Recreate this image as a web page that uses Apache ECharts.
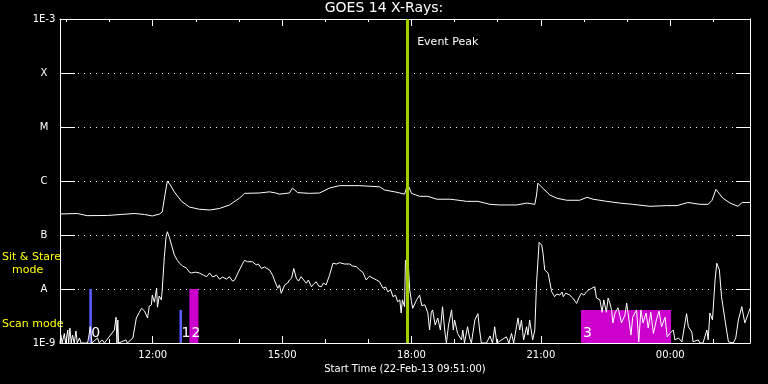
<!DOCTYPE html>
<html><head><meta charset="utf-8">
<script src="https://cdn.jsdelivr.net/npm/echarts@6/dist/echarts.min.js"></script>
<style>html,body{margin:0;padding:0;background:#000}#c{width:768px;height:384px}</style>
</head><body><div id="c"></div>
<script>
// Time in decimal hours since 00:00 22-Feb-13 (values > 24 are on 23-Feb); flux in W/m^2
const longT = [9.85,10.25,10.48,10.95,11.27,11.57,11.81,11.99,12.16,12.22,12.28,12.34,12.41,12.50,12.67,12.85,13.08,13.32,13.55,13.78,14.01,14.13,14.48,14.71,14.75,14.85,14.94,15.17,15.24,15.36,15.64,15.87,16.10,16.33,16.80,17.26,17.38,17.61,17.73,17.84,17.89,17.94,18.00,18.19,18.38,18.59,18.89,18.93,19.00,19.28,19.54,19.82,20.05,20.44,20.67,20.86,20.90,20.93,21.05,21.21,21.37,21.60,21.90,22.07,22.21,22.53,22.83,23.13,23.53,23.92,24.16,24.41,24.69,24.88,24.97,25.06,25.22,25.39,25.57,25.67,25.85];
const longV = [2.45e-7,2.5e-7,2.28e-7,2.3e-7,2.4e-7,2.5e-7,2.4e-7,2.25e-7,2.45e-7,2.67e-7,5.3e-7,1.0e-6,8.4e-7,6.3e-7,4.2e-7,3.3e-7,3.0e-7,2.9e-7,3.1e-7,3.6e-7,4.8e-7,5.9e-7,6.0e-7,6.3e-7,6.8e-7,6.0e-7,5.7e-7,6.0e-7,7.4e-7,6.1e-7,5.9e-7,6.0e-7,7.4e-7,8.2e-7,8.2e-7,7.8e-7,6.8e-7,6.3e-7,6.0e-7,5.7e-7,7.7e-7,7.8e-7,5.9e-7,5.2e-7,5.2e-7,4.6e-7,4.6e-7,4.8e-7,4.5e-7,4.2e-7,4.2e-7,3.7e-7,3.6e-7,3.6e-7,3.9e-7,3.7e-7,5.5e-7,9.1e-7,7.3e-7,5.5e-7,4.8e-7,4.4e-7,4.4e-7,5.0e-7,4.6e-7,4.2e-7,3.9e-7,3.7e-7,3.4e-7,3.5e-7,3.5e-7,4.0e-7,3.7e-7,3.7e-7,4.4e-7,7.0e-7,4.8e-7,3.9e-7,3.4e-7,4.0e-7,4.0e-7];

const shortT = [9.85,9.87,9.90,9.95,9.98,10.03,10.05,10.08,10.11,10.14,10.18,10.22,10.25,10.30,10.34,10.49,10.52,10.55,10.59,10.72,10.76,10.83,10.88,11.11,11.15,11.17,11.19,11.21,11.38,11.41,11.54,11.57,11.62,11.69,11.74,11.81,11.88,11.92,11.97,11.99,12.04,12.09,12.11,12.15,12.20,12.22,12.27,12.31,12.34,12.39,12.43,12.50,12.57,12.62,12.69,12.78,12.85,12.90,12.99,13.08,13.18,13.25,13.32,13.39,13.48,13.55,13.62,13.71,13.78,13.85,13.90,14.01,14.08,14.13,14.20,14.24,14.31,14.40,14.45,14.52,14.59,14.71,14.78,14.82,14.90,14.94,14.98,15.06,15.13,15.17,15.22,15.27,15.33,15.38,15.44,15.50,15.56,15.61,15.68,15.73,15.79,15.85,15.91,15.96,16.02,16.10,16.18,16.26,16.33,16.45,16.57,16.63,16.72,16.80,16.87,16.95,17.03,17.11,17.19,17.26,17.34,17.40,17.45,17.52,17.57,17.63,17.68,17.73,17.76,17.79,17.84,17.86,17.90,17.93,17.96,18.00,18.03,18.07,18.12,18.19,18.24,18.31,18.38,18.42,18.46,18.49,18.55,18.61,18.67,18.72,18.77,18.81,18.86,18.93,18.97,19.00,19.07,19.16,19.19,19.23,19.30,19.35,19.39,19.47,19.54,19.58,19.62,19.74,19.82,19.88,19.93,19.98,20.20,20.26,20.32,20.37,20.47,20.51,20.55,20.60,20.67,20.70,20.74,20.81,20.86,20.90,20.96,21.02,21.05,21.09,21.17,21.25,21.32,21.37,21.44,21.49,21.52,21.58,21.67,21.74,21.83,21.88,21.94,22.00,22.06,22.11,22.18,22.25,22.29,22.37,22.42,22.46,22.52,22.56,22.60,22.64,22.67,22.72,22.79,22.87,22.95,22.99,23.02,23.09,23.13,23.22,23.27,23.32,23.37,23.44,23.49,23.55,23.61,23.68,23.74,23.80,23.88,23.93,23.99,24.07,24.11,24.19,24.27,24.38,24.42,24.50,24.53,24.65,24.69,24.76,24.85,24.88,24.92,24.98,25.04,25.08,25.14,25.19,25.27,25.35,25.46,25.52,25.58,25.66,25.73,25.81,25.85];
const shortV = [1e-9,1.4e-9,1e-9,1.5e-9,1e-9,1.74e-9,1e-9,1.9e-9,1e-9,1.4e-9,1e-9,1.67e-9,1e-9,1.24e-9,1e-9,1e-9,1.35e-9,2e-9,1e-9,1.24e-9,1e-9,1.14e-9,1e-9,1.74e-9,3e-9,1e-9,2.67e-9,1e-9,1.14e-9,1e-9,1.24e-9,1.29e-9,2.9e-9,3.7e-9,4.4e-9,3.9e-9,2.9e-9,4.8e-9,5.1e-9,7.7e-9,5.7e-9,1.04e-8,4.6e-9,7.4e-9,6.3e-9,9.6e-9,4.0e-8,9.3e-8,1.15e-7,8.8e-8,6.8e-8,4.3e-8,3.4e-8,3.0e-8,2.67e-8,2.45e-8,2.05e-8,1.98e-8,2.05e-8,1.98e-8,1.8e-8,1.69e-8,1.98e-8,1.67e-8,1.8e-8,1.52e-8,1.67e-8,1.52e-8,1.69e-8,1.4e-8,1.47e-8,2.25e-8,2.9e-8,3.4e-8,3.2e-8,3.0e-8,3.2e-8,2.8e-8,2.9e-8,2.4e-8,2.55e-8,2.25e-8,1.8e-8,1.47e-8,1.03e-8,1.19e-8,8.3e-9,1.19e-8,1.29e-8,1.47e-8,1.58e-8,2.4e-8,1.58e-8,1.4e-8,1.69e-8,1.47e-8,1.28e-8,1.47e-8,1.1e-8,1.23e-8,1.36e-8,1.13e-8,1.1e-8,1.29e-8,1.19e-8,1.8e-8,3.0e-8,2.9e-8,3.07e-8,2.9e-8,2.9e-8,2.67e-8,2.6e-8,2.25e-8,2.05e-8,1.47e-8,1.73e-8,1.58e-8,1.47e-8,1.36e-8,1.03e-8,1.09e-8,8.9e-9,9.6e-9,7.2e-9,7.7e-9,5.8e-9,6.3e-9,3.6e-9,6.3e-9,4.7e-9,3.4e-8,3.2e-8,2.6e-8,9.6e-9,5.8e-9,4.4e-9,4.7e-9,6.3e-9,7.7e-9,4.9e-9,5.1e-9,3.6e-9,1.74e-9,3.7e-9,4.1e-9,2.15e-9,2.9e-9,1.74e-9,4.7e-9,1.74e-9,1e-9,2.15e-9,4.1e-9,1.74e-9,2.67e-9,1.5e-9,1.14e-9,1.74e-9,1e-9,2.0e-9,1.24e-9,1e-9,2.67e-9,3.5e-9,1.74e-9,1e-9,1e-9,1.35e-9,1e-9,2e-9,1e-9,1.3e-9,1e-9,1.5e-9,1e-9,2.9e-9,1.74e-9,2.67e-9,1.14e-9,2e-9,1.4e-9,2.67e-9,1.14e-9,1.74e-9,1.28e-8,7.3e-8,6.5e-8,4.6e-8,2.25e-8,1.95e-8,8.9e-9,7.2e-9,8.1e-9,7.7e-9,8.8e-9,7.2e-9,8.4e-9,7.7e-9,6.8e-9,5.4e-9,6.8e-9,8.3e-9,7.7e-9,8.9e-9,9.6e-9,1.03e-8,1.1e-8,6.8e-9,6.3e-9,3.7e-9,6.3e-9,3.7e-9,6.8e-9,5.5e-9,4.1e-9,2.35e-9,3.6e-9,4.5e-9,2.35e-9,3.3e-9,5.5e-9,3.7e-9,1.4e-9,3.0e-9,4.1e-9,1.05e-9,4.1e-9,2.35e-9,3.6e-9,1.9e-9,3.7e-9,1.5e-9,2.67e-9,3.9e-9,2.0e-9,3.0e-9,1.29e-9,1.5e-9,1.74e-9,1.14e-9,1.24e-9,1.05e-9,3.5e-9,2.0e-9,1.6e-9,1.05e-9,1.14e-9,1e-9,1e-9,1.74e-9,1.14e-9,3.6e-9,2.67e-9,1.47e-8,3.0e-8,2.25e-8,7.2e-9,2.67e-9,1.05e-9,1e-9,1.24e-9,2.67e-9,4.7e-9,2.35e-9,3.5e-9,4.4e-9];

// Scan/mode markers
const modeStart = [10.53, 12.62, 12.85, 21.93];
const modeEnd   = [10.59, 12.68, 13.06, 24.02];
const modeTop   = [1e-8, 4.1e-9, 1e-8, 4.1e-9];
const modeLabel = ['0', '1', '2', '3'];

const eventPeak = 17.90;
const xMin = 9.85, xMax = 25.85;
const yMin = 1e-9, yMax = 1e-3;
const majorTicks = [12, 15, 18, 21, 24];
const minorTicks = [10, 11, 13, 14, 16, 17, 19, 20, 22, 23, 25];
const classLabels = {'-9': '1E-9', '-8': 'A', '-7': 'B', '-6': 'C', '-5': 'M', '-4': 'X', '-3': '1E-3'};

const FONT = 'DejaVu Sans';
const modeColors = ['#5c5cff', '#5c5cff', '#cc00cc', '#cc00cc'];

const chart = echarts.init(document.getElementById('c'), null, {renderer: 'canvas'});
const gridBox = {left: 60, right: 18, top: 19, bottom: 41};

function xAxisDef(grid, pos, ticks, len, withLabels) {
  return {
    type: 'value', gridIndex: grid, position: pos, min: xMin, max: xMax,
    axisLine: {show: grid === 0, lineStyle: {color: '#fff', width: 1}},
    axisTick: {show: true, inside: true, length: len, customValues: ticks, lineStyle: {color: '#fff', width: 1}},
    axisLabel: {show: withLabels, customValues: majorTicks, color: '#fff', fontFamily: FONT, fontSize: 10, margin: 7,
      formatter: v => String(Math.round(v) % 24).padStart(2, '0') + ':00'},
    splitLine: {show: false},
    name: withLabels ? 'Start Time (22-Feb-13 09:51:00)' : '',
    nameLocation: 'middle', nameGap: 20,
    nameTextStyle: {color: '#fff', fontFamily: FONT, fontSize: 10}
  };
}

const option = {
  backgroundColor: '#000',
  animation: false,
  title: {text: 'GOES 14 X-Rays:', left: 'center', top: 1, padding: 0,
    textStyle: {color: '#fff', fontFamily: FONT, fontSize: 14, fontWeight: 'normal'}},
  grid: [Object.assign({}, gridBox), Object.assign({}, gridBox)],
  xAxis: [
    xAxisDef(0, 'bottom', majorTicks, 7, true),
    xAxisDef(0, 'top', majorTicks, 7, false),
    xAxisDef(1, 'bottom', minorTicks, 4, false),
    xAxisDef(1, 'top', minorTicks, 3, false)
  ],
  yAxis: [
    {type: 'log', logBase: 10, gridIndex: 0, position: 'left', min: yMin, max: yMax,
      axisLine: {show: true, lineStyle: {color: '#fff', width: 1}},
      axisTick: {show: true, inside: true, length: 15, lineStyle: {color: '#fff', width: 1}},
      axisLabel: {color: '#fff', fontFamily: FONT, fontSize: 10, margin: 16, align: 'center',
        formatter: v => classLabels[String(Math.round(Math.log10(v)))] || ''},
      splitLine: {show: true, lineStyle: {color: '#fff', width: 1, type: [1, 5]}}},
    {type: 'log', logBase: 10, gridIndex: 0, position: 'right', min: yMin, max: yMax,
      axisLine: {show: true, lineStyle: {color: '#fff', width: 1}},
      axisTick: {show: true, inside: true, length: 14, lineStyle: {color: '#fff', width: 1}},
      axisLabel: {show: false}, splitLine: {show: false}},
    {type: 'log', logBase: 10, gridIndex: 1, min: yMin, max: yMax, show: false}
  ],
  graphic: [
    {type: 'text', left: 2, top: 252, style: {text: 'Sit & Stare', fill: '#ffff00', font: '11px ' + FONT}},
    {type: 'text', left: 12, top: 265, style: {text: 'mode', fill: '#ffff00', font: '11px ' + FONT}},
    {type: 'text', left: 2, top: 319, style: {text: 'Scan mode', fill: '#ffff00', font: '11px ' + FONT}}
  ],
  series: [
    {type: 'custom', xAxisIndex: 0, yAxisIndex: 0, z: 1,
      data: modeStart.map((s, i) => [s, modeEnd[i], modeTop[i]]),
      encode: {x: [0, 1], y: 2},
      renderItem: (params, api) => {
        const i = params.dataIndex;
        const p0 = api.coord([api.value(0), api.value(2)]);
        const p1 = api.coord([api.value(1), yMin]);
        return {type: 'group', children: [
          {type: 'rect', shape: {x: p0[0], y: p0[1], width: p1[0] - p0[0], height: p1[1] - p0[1]},
            style: {fill: modeColors[i]}},
          {type: 'text', x: p0[0] + 2, y: p1[1] - 3,
            style: {text: modeLabel[i], fill: '#fff', font: '14px ' + FONT, align: 'left', verticalAlign: 'bottom'}}
        ]};
      }},
    {type: 'line', xAxisIndex: 0, yAxisIndex: 0, z: 3, showSymbol: false, symbol: 'none',
      lineStyle: {color: '#fff', width: 1}, data: shortT.map((t, i) => [t, shortV[i]])},
    {type: 'line', xAxisIndex: 0, yAxisIndex: 0, z: 3, showSymbol: false, symbol: 'none',
      lineStyle: {color: '#fff', width: 1}, data: longT.map((t, i) => [t, longV[i]]),
      markLine: {silent: true, symbol: 'none', label: {show: false}, z: 5,
        lineStyle: {color: '#a0d000', width: 3, type: 'solid'},
        data: [{xAxis: eventPeak}]}}
  ]
};
chart.setOption(option);
const px = chart.convertToPixel({xAxisIndex: 0}, eventPeak);
chart.setOption({graphic: option.graphic.concat([
  {type: 'text', left: px + 10, top: 37, style: {text: 'Event Peak', fill: '#fff', font: '11px ' + FONT}}
])});
</script>
</body></html>
